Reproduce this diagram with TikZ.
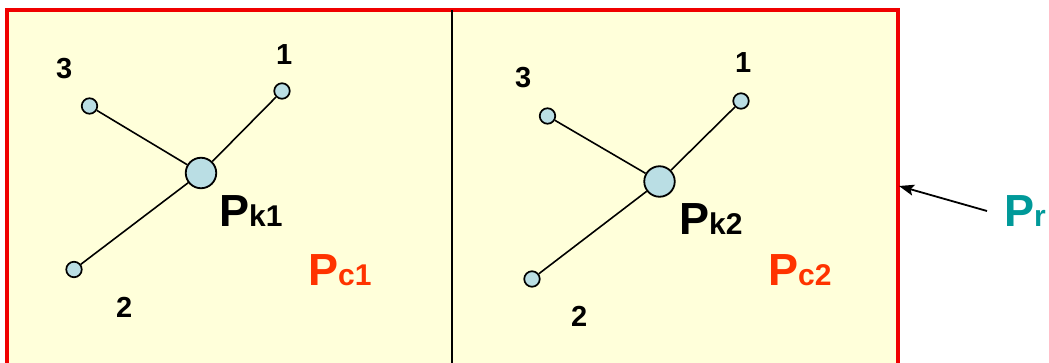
\documentclass[tikz,border=0pt]{standalone}
\usepackage{fontspec}
\setmainfont{Liberation Sans}
\usetikzlibrary{arrows.meta}
\definecolor{bgyellow}{RGB}{255,255,218}
\definecolor{framered}{RGB}{240,0,0}
\definecolor{nodeblue}{RGB}{186,222,228}
\definecolor{pcred}{RGB}{255,51,0}
\definecolor{prteal}{RGB}{0,153,153}
\newcommand{\bigP}[2]{{\fontsize{45}{45}\selectfont\bfseries P}{\fontsize{30}{30}\selectfont\bfseries #1#2}}
\begin{document}
\begin{tikzpicture}[x=1pt,y=-1pt,
  leaf/.style={circle,draw=black,fill=nodeblue,line width=1.7pt,minimum size=15.5pt,inner sep=0pt},
  hub/.style={circle,draw=black,fill=nodeblue,line width=1.8pt,minimum size=30.5pt,inner sep=0pt},
  edge/.style={draw=black,line width=1.6pt},
  num/.style={anchor=base west,inner sep=0pt,font=\fontsize{29}{29}\selectfont\bfseries},
  lbl/.style={anchor=base west,inner sep=0pt}]
\useasboundingbox (0,0) rectangle (1049,363);
\clip (0,0) rectangle (1049,363);
% frame
\draw[fill=bgyellow,draw=framered,line width=3.2pt] (7,10) rectangle (898,375);
\coordinate (divtop) at (452,10);
\coordinate (divbot) at (452,375);
\draw[black,line width=2.2pt] (divtop) -- (divbot);
% left star
\node[hub] (k1) at (201,173) {};
\node[leaf] (a1) at (282,91) {};
\node[leaf] (a3) at (89.5,106) {};
\node[leaf] (a2) at (74,269.5) {};
\draw[edge] (k1) -- (a1);
\draw[edge] (k1) -- (a3);
\draw[edge] (k1) -- (a2);
\node[num] (la3) at (56,79) {3};
\node[num] (la1) at (276,65) {1};
\node[num] (la2) at (116,317) {2};
\node[lbl] (pk1) at (219,227) {\bigP{k}{1}};
\node[lbl,text=pcred] (pc1) at (308,286) {\bigP{c}{1}};
% right star
\node[hub] (k2) at (659.5,181.5) {};
\node[leaf] (b1) at (741,101) {};
\node[leaf] (b3) at (547.5,116) {};
\node[leaf] (b2) at (532,279) {};
\draw[edge] (k2) -- (b1);
\draw[edge] (k2) -- (b3);
\draw[edge] (k2) -- (b2);
\node[num] (lb3) at (515,88) {3};
\node[num] (lb1) at (735,73) {1};
\node[num] (lb2) at (571,326) {2};
\node[lbl] (pk2) at (679,235) {\bigP{k}{2}};
\node[lbl,text=pcred] (pc2) at (768,285) {\bigP{c}{2}};
% Pr
\node[lbl,text=prteal] (pr) at (1004,227) {\bigP{r}{}};
\coordinate (arrstart) at (987,211);
\coordinate (arrend) at (899,186);
\draw[black,line width=1.8pt,-{Stealth[length=15pt,width=11pt,inset=3pt]}] (arrstart) -- (arrend);
\end{tikzpicture}
\end{document}
